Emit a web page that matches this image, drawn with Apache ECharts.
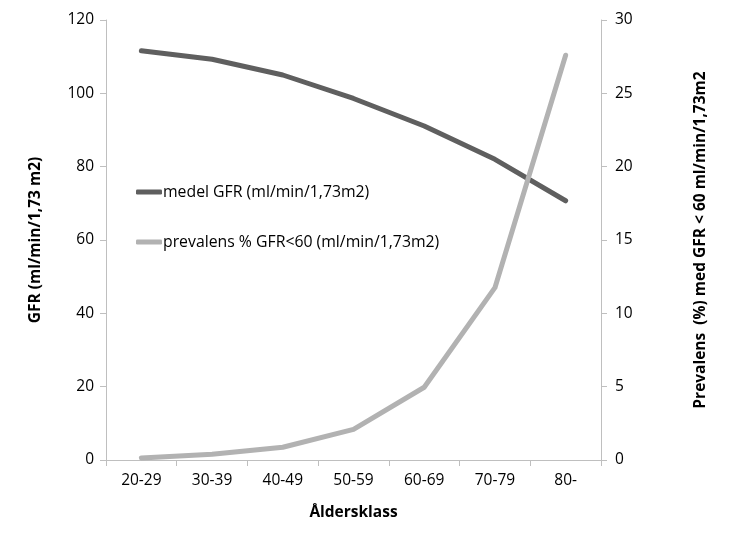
<!DOCTYPE html>
<html>
<head>
<meta charset="utf-8">
<script src="https://cdn.jsdelivr.net/npm/echarts@6/dist/echarts.min.js"></script>
<style>
  html, body { margin: 0; padding: 0; background: #fff; }
  #chart { width: 740px; height: 555px; }
</style>
</head>
<body>
<div id="chart"></div>
<script>
const ageClasses = ["20-29", "30-39", "40-49", "50-59", "60-69", "70-79", "80-"];
const meanGfr = [111.6, 109.3, 105, 98.6, 91.1, 82, 70.7];
const prevalence = [0.14, 0.39, 0.87, 2.09, 4.96, 11.75, 27.6];

const font = "'Open Sans', sans-serif";
const axisGrey = "#bfbfbf";
const fs = 15.5;

const chart = echarts.init(document.getElementById("chart"));

chart.setOption({
  animation: false,
  backgroundColor: "#fff",
  textStyle: { fontFamily: font },
  grid: { left: 106, right: 139, top: 20, bottom: 95 },
  legend: {
    orient: "vertical",
    left: 131,
    top: 179,
    itemGap: 34,
    itemWidth: 26,
    itemHeight: 5,
    icon: "roundRect",
    textStyle: { fontFamily: font, fontSize: 15.8, color: "#000", padding: [0, 0, 0, -4] },
    data: ["medel GFR (ml/min/1,73m2)", "prevalens % GFR<60 (ml/min/1,73m2)"],
  },
  xAxis: {
    type: "category",
    data: ageClasses,
    boundaryGap: true,
    name: "Åldersklass",
    nameLocation: "middle",
    nameGap: 45,
    nameTextStyle: { fontFamily: font, fontSize: fs, fontWeight: "bold", color: "#000" },
    axisLine: { lineStyle: { color: axisGrey } },
    axisTick: { show: true, length: 6, lineStyle: { color: axisGrey } },
    axisLabel: { fontFamily: font, fontSize: fs, color: "#000", margin: 13 },
  },
  yAxis: [
    {
      type: "value",
      min: 0,
      max: 120,
      interval: 20,
      name: "GFR (ml/min/1,73 m2)",
      nameLocation: "middle",
      nameGap: 62,
      nameRotate: 90,
      nameTextStyle: { fontFamily: font, fontSize: fs, fontWeight: "bold", color: "#000" },
      axisLine: { show: true, lineStyle: { color: axisGrey } },
      axisTick: { show: true, length: 6, lineStyle: { color: axisGrey } },
      axisLabel: { fontFamily: font, fontSize: fs, color: "#000", margin: 12 },
      splitLine: { show: false },
    },
    {
      type: "value",
      min: 0,
      max: 30,
      interval: 5,
      position: "right",
      name: "Prevalens  (%) med GFR < 60 ml/min/1,73m2",
      nameLocation: "middle",
      nameGap: 92,
      nameRotate: 90,
      nameTextStyle: { fontFamily: font, fontSize: fs, fontWeight: "bold", color: "#000" },
      axisLine: { show: true, lineStyle: { color: axisGrey } },
      axisTick: { show: true, length: 6, lineStyle: { color: axisGrey } },
      axisLabel: { fontFamily: font, fontSize: fs, color: "#000", margin: 14 },
      splitLine: { show: false },
    },
  ],
  series: [
    {
      name: "medel GFR (ml/min/1,73m2)",
      type: "line",
      yAxisIndex: 0,
      data: meanGfr,
      symbol: "none",
      color: "#5f5f5f",
      lineStyle: { width: 5, color: "#5f5f5f", cap: "round", join: "round" },
      z: 2,
    },
    {
      name: "prevalens % GFR<60 (ml/min/1,73m2)",
      type: "line",
      yAxisIndex: 1,
      data: prevalence,
      symbol: "none",
      color: "#b2b2b2",
      lineStyle: { width: 5, color: "#b2b2b2", cap: "round", join: "round" },
      z: 3,
    },
  ],
});
</script>
</body>
</html>
